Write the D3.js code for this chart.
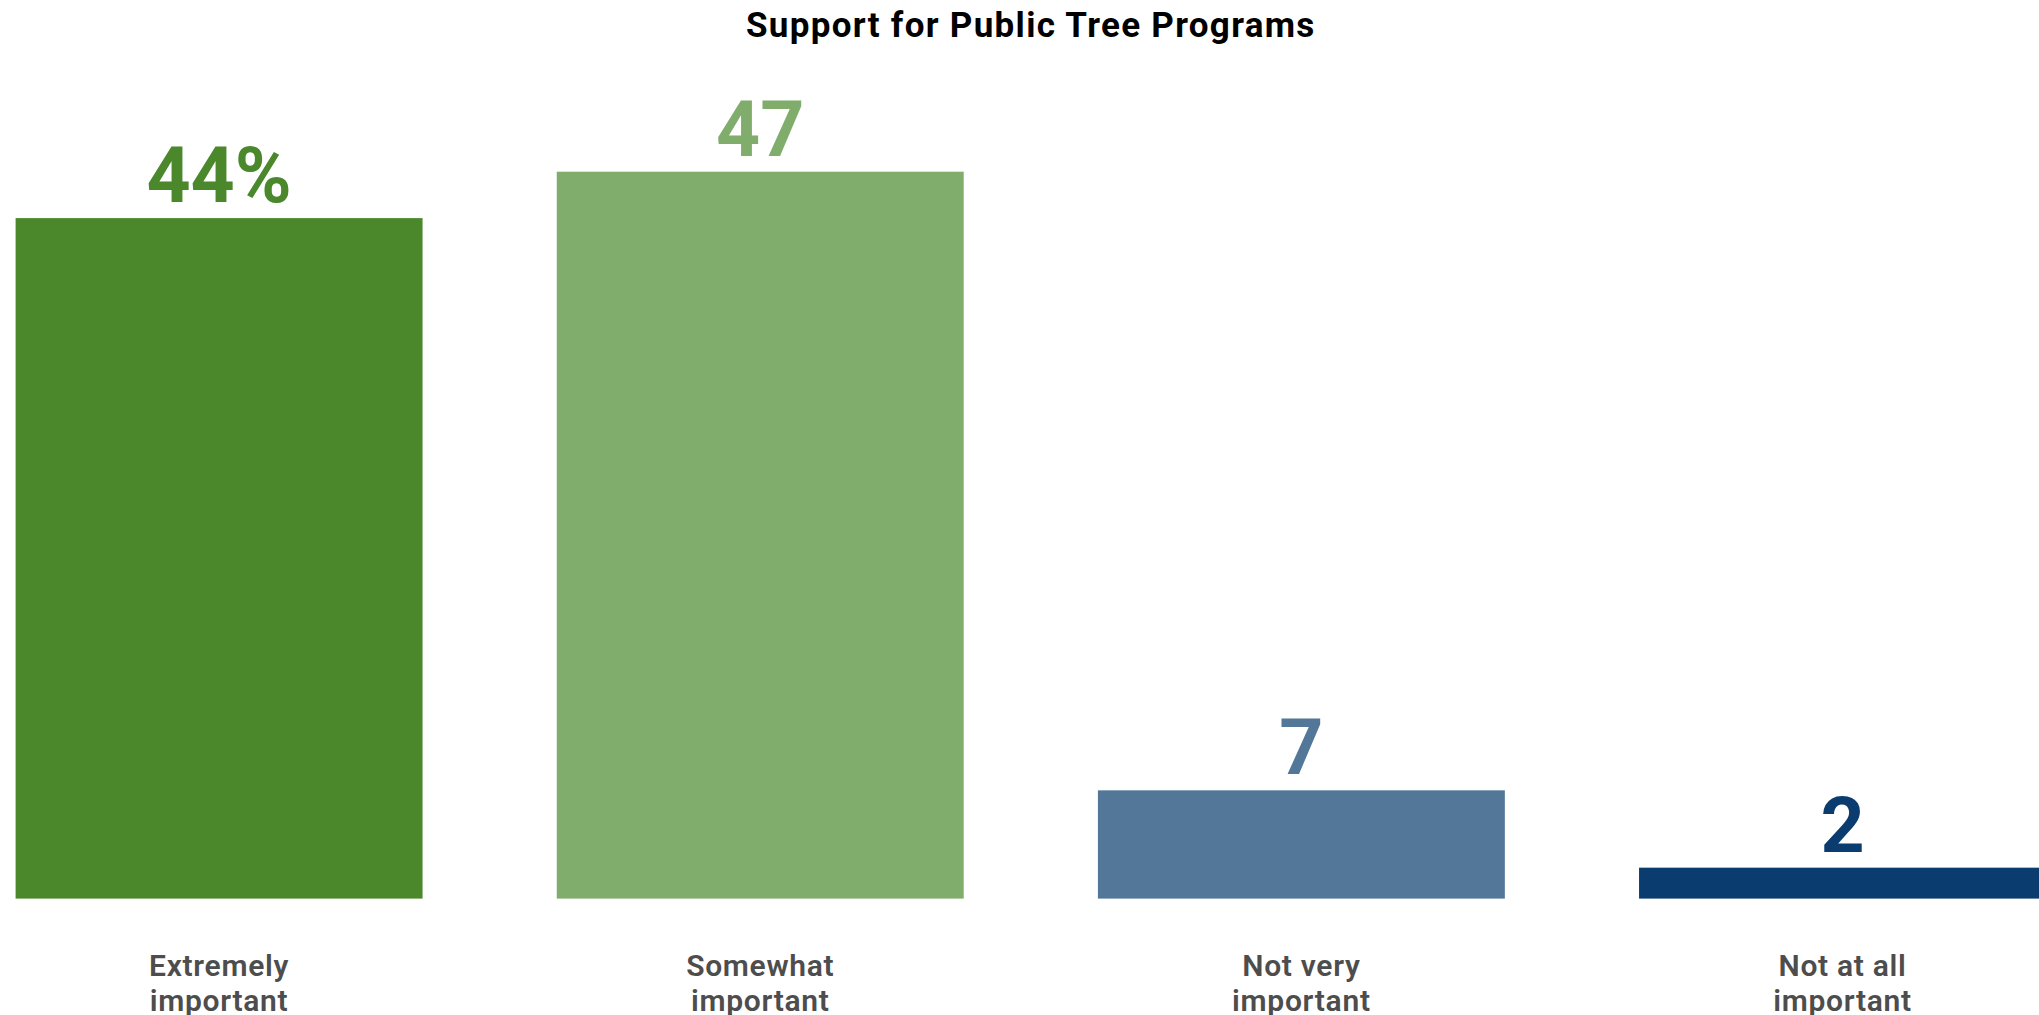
<!DOCTYPE html>
<html>
<head>
<meta charset="utf-8">
<script src="https://cdn.jsdelivr.net/npm/d3@7"></script>
<style>
  html, body { margin: 0; padding: 0; background: #ffffff; overflow: hidden; }
  svg { display: block; }
</style>
</head>
<body>
<svg id="chart" width="2039" height="1015"></svg>
<script>
const chartTitle = "Support for Public Tree Programs";
const categories = [["Extremely", "important"], ["Somewhat", "important"], ["Not very", "important"], ["Not at all", "important"]];
const values = [44, 47, 7, 2];
const valueLabels = ["44%", "47", "7", "2"];
const colors = ["#4a882b", "#80ad6c", "#537798", "#0b3c70"];

const W = 2039, H = 1015;
const svg = d3.select("#chart");
const font = "Roboto, 'DejaVu Sans', sans-serif";

const ids = d3.range(values.length);
const x = d3.scaleBand().domain(ids).range([15.6, 2046]).paddingInner(0.248).paddingOuter(0);
const y = d3.scaleLinear().domain([0, 47]).range([898.6, 171.7]);

const cx = (15.6 + 2046) / 2;

svg.append("text")
  .attr("x", cx).attr("y", 37)
  .attr("text-anchor", "middle")
  .attr("font-family", font)
  .attr("font-weight", 700)
  .attr("font-size", 35)
  .attr("letter-spacing", 1.3)
  .attr("fill", "#000000")
  .text(chartTitle);

svg.append("g").selectAll("rect").data(ids).join("rect")
  .attr("x", i => x(i))
  .attr("y", i => y(values[i]))
  .attr("width", x.bandwidth())
  .attr("height", i => y(0) - y(values[i]))
  .attr("fill", i => colors[i]);

svg.append("g").selectAll("text").data(ids).join("text")
  .attr("x", i => x(i) + x.bandwidth() / 2)
  .attr("y", i => y(values[i]) - 16)
  .attr("text-anchor", "middle")
  .attr("font-family", font)
  .attr("font-weight", 700)
  .attr("font-size", 77)
  .attr("fill", i => colors[i])
  .text(i => valueLabels[i]);

const xAxis = d3.axisBottom(x).tickSize(0).tickFormat("");
const axG = svg.append("g").attr("transform", `translate(0,${y(0)})`).call(xAxis);
axG.select(".domain").remove();

axG.selectAll(".tick").each(function(i) {
  const g = d3.select(this);
  categories[i].forEach((line, k) => {
    g.append("text")
      .attr("x", 0).attr("y", 77 + k * 35)
      .attr("text-anchor", "middle")
      .attr("font-family", font)
      .attr("font-weight", 600)
      .attr("font-size", 30)
      .attr("letter-spacing", 0.7)
      .attr("fill", "#4d4d4d")
      .text(line);
  });
});
</script>
</body>
</html>
